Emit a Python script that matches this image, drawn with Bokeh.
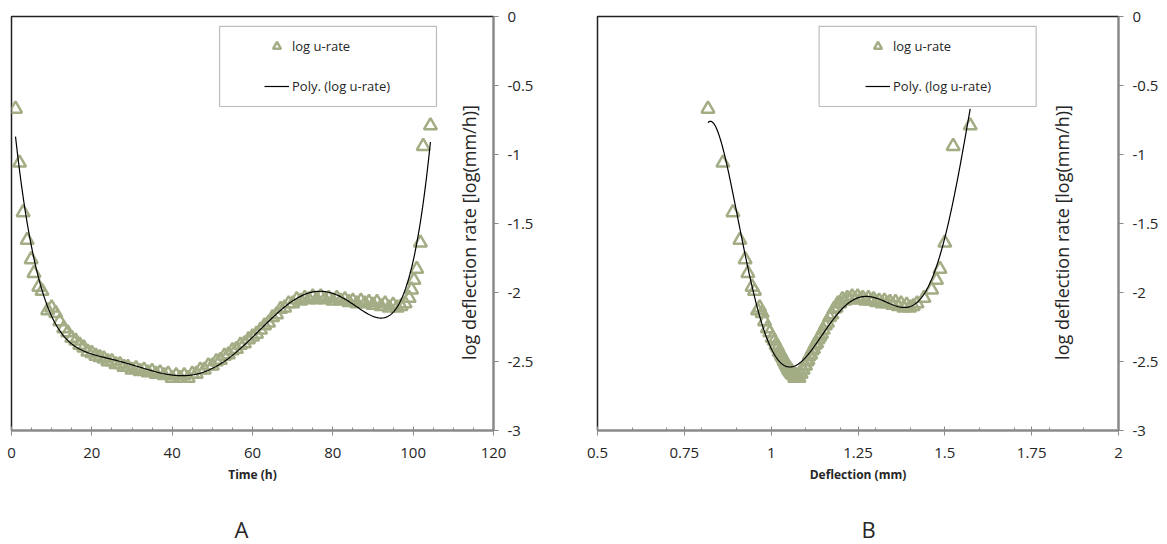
import numpy as np
from bokeh.plotting import figure
from bokeh.layouts import row
from bokeh.models import (Range1d, FixedTicker, CustomJSTickFormatter, Legend, LegendItem,
                          Label, Title, BoxAnnotation, ColumnDataSource)
from bokeh.embed import file_html
from bokeh.resources import INLINE

# ---------------- data ----------------
time_h = [1.0, 2.0, 2.9, 3.9, 4.9, 5.6, 6.8, 7.6, 9.0, 10.0,
          11.0, 12.0, 13.0, 14.0, 15.0, 16.0, 17.0, 18.0, 19.0, 20.0,
          21.0, 22.0, 23.0, 24.0, 25.0, 26.0, 27.0, 28.0, 29.0, 30.0,
          31.0, 32.0, 33.0, 34.0, 35.0, 36.0, 37.0, 38.0, 39.0, 40.0,
          41.0, 42.0, 43.0, 44.0, 45.0, 46.0, 47.0, 48.0, 49.0, 50.0,
          51.0, 52.0, 53.0, 54.0, 55.0, 56.0, 57.0, 58.0, 59.0, 60.0,
          61.0, 62.0, 63.0, 64.0, 65.0, 66.0, 67.0, 68.0, 69.0, 70.0,
          71.0, 72.0, 73.0, 74.0, 75.0, 76.0, 77.0, 78.0, 79.0, 80.0,
          81.0, 82.0, 83.0, 84.0, 85.0, 86.0, 87.0, 88.0, 89.0, 90.0,
          91.0, 92.0, 93.0, 94.0, 95.0, 96.0, 97.0, 98.0, 99.0, 99.6,
          100.2, 100.9, 101.8, 102.5, 104.3]

log_rate = [-0.67, -1.06, -1.42, -1.62, -1.76, -1.86, -1.96, -1.99, -2.13, -2.11,
            -2.15, -2.21, -2.26, -2.29, -2.33, -2.35, -2.38, -2.40, -2.43, -2.44,
            -2.46, -2.47, -2.48, -2.50, -2.50, -2.52, -2.52, -2.54, -2.54, -2.56,
            -2.55, -2.57, -2.56, -2.58, -2.57, -2.59, -2.58, -2.60, -2.59, -2.62,
            -2.60, -2.62, -2.60, -2.62, -2.59, -2.59, -2.56, -2.56, -2.53, -2.53,
            -2.50, -2.49, -2.46, -2.45, -2.42, -2.41, -2.38, -2.37, -2.34, -2.32,
            -2.30, -2.27, -2.24, -2.22, -2.18, -2.16, -2.12, -2.11, -2.08, -2.08,
            -2.05, -2.06, -2.04, -2.05, -2.03, -2.05, -2.03, -2.05, -2.04, -2.06,
            -2.04, -2.06, -2.05, -2.07, -2.06, -2.08, -2.06, -2.08, -2.07, -2.09,
            -2.07, -2.10, -2.08, -2.11, -2.09, -2.11, -2.10, -2.08, -2.04, -1.98,
            -1.91, -1.83, -1.64, -0.94, -0.79]

deflection_mm = [0.818, 0.861, 0.890, 0.910, 0.925, 0.933, 0.945, 0.952, 0.961, 0.967,
                 0.974, 0.981, 0.989, 0.996, 1.003, 1.009, 1.014, 1.019, 1.023, 1.027,
                 1.030, 1.033, 1.035, 1.038, 1.040, 1.042, 1.044, 1.046, 1.048, 1.050,
                 1.052, 1.053, 1.055, 1.056, 1.058, 1.059, 1.061, 1.063, 1.066, 1.068,
                 1.071, 1.074, 1.077, 1.080, 1.083, 1.086, 1.089, 1.092, 1.096, 1.099,
                 1.103, 1.106, 1.110, 1.114, 1.118, 1.122, 1.126, 1.131, 1.135, 1.140,
                 1.145, 1.150, 1.156, 1.162, 1.168, 1.175, 1.181, 1.187, 1.192, 1.198,
                 1.205, 1.212, 1.219, 1.226, 1.233, 1.241, 1.249, 1.257, 1.264, 1.272,
                 1.280, 1.288, 1.295, 1.303, 1.311, 1.319, 1.326, 1.334, 1.342, 1.350,
                 1.358, 1.366, 1.374, 1.382, 1.390, 1.399, 1.409, 1.420, 1.440, 1.462,
                 1.476, 1.486, 1.500, 1.524, 1.573]

x_ticks_a = [0, 20, 40, 60, 80, 100, 120]
x_minor_a = [0, 5, 10, 15, 20, 25, 30, 35, 40, 45, 50, 55, 60, 65, 70, 75, 80, 85,
             90, 95, 100, 105, 110, 115, 120]
x_ticks_b = [0.5, 0.75, 1, 1.25, 1.5, 1.75, 2]
x_minor_b = [0.5, 0.6, 0.7, 0.8, 0.9, 1.0, 1.1, 1.2, 1.3, 1.4, 1.5, 1.6, 1.7, 1.8, 1.9, 2.0]
y_ticks = [0, -0.5, -1, -1.5, -2, -2.5, -3]

series_label = "log u-rate"
trend_label = "Poly. (log u-rate)"
y_title = "log deflection rate [log(mm/h)]"

OLIVE = "#A3AD85"
AXIS_GRAY = "#898989"
TEXT = "#262626"
FONT = "Open Sans"


def make_panel(xs, x_range, xt, xminor, xlabel, letter, letter_offset, box_lr, legend_x,
               ylab_x, border_left, border_right, frame_w):
    p = figure(frame_width=frame_w, frame_height=414,
               x_range=Range1d(*x_range), y_range=Range1d(-3, 0),
               y_axis_location="right", output_backend="svg", toolbar_location=None,
               min_border_left=border_left, min_border_right=border_right,
               min_border_top=16, min_border_bottom=106,
               background_fill_color="white", border_fill_color="white")
    p.xgrid.visible = False
    p.ygrid.visible = False
    p.outline_line_color = "#222222"
    p.outline_line_width = 1.5

    src = ColumnDataSource(dict(x=xs, y=log_rate))
    sc = p.scatter("x", "y", source=src, marker="triangle", size=13,
                   line_color=OLIVE, line_width=2.5, fill_alpha=0)

    coef = np.polyfit(np.array(xs), np.array(log_rate), 6)
    xx = np.linspace(min(xs), max(xs), 400)
    ln = p.line(xx, np.polyval(coef, xx), line_color="black", line_width=1.2)

    # legend box
    box = BoxAnnotation(left=box_lr[0], right=box_lr[1], top=-0.072, bottom=-0.652,
                        fill_color="white", fill_alpha=1.0,
                        line_color="#222222", line_width=1.2)
    p.add_layout(box)
    leg = Legend(items=[LegendItem(label=series_label, renderers=[sc]),
                        LegendItem(label=trend_label, renderers=[ln])],
                 location=(legend_x, 334), glyph_width=25, glyph_height=20,
                 spacing=20, padding=0, margin=0, label_standoff=3,
                 border_line_alpha=0, background_fill_alpha=0,
                 label_text_font=FONT, label_text_font_size="13px",
                 label_text_color=TEXT)
    p.add_layout(leg)

    # y title placed inside the plot area, as in the reference
    p.add_layout(Label(x=ylab_x, y=-1.565, text=y_title, angle=np.pi / 2,
                       text_align="center", text_baseline="middle",
                       text_font=FONT, text_font_size="18px", text_color=TEXT))

    xa = p.xaxis[0]
    xa.ticker = FixedTicker(ticks=xt, minor_ticks=xminor)
    xa.formatter = CustomJSTickFormatter(code="return tick.toString();")
    xa.axis_line_color = AXIS_GRAY
    xa.axis_line_width = 2
    xa.major_tick_line_color = AXIS_GRAY
    xa.minor_tick_line_color = AXIS_GRAY
    xa.major_tick_in = 4
    xa.major_tick_out = 5
    xa.minor_tick_in = 3
    xa.minor_tick_out = 0
    xa.major_label_standoff = 12
    xa.major_label_text_font = FONT
    xa.major_label_text_font_size = "15px"
    xa.major_label_text_color = TEXT
    xa.axis_label = xlabel
    xa.axis_label_text_font = FONT
    xa.axis_label_text_font_size = "12px"
    xa.axis_label_text_font_style = "bold"
    xa.axis_label_text_color = TEXT
    xa.axis_label_standoff = 5

    ya = p.yaxis[0]
    ya.ticker = FixedTicker(ticks=y_ticks)
    ya.formatter = CustomJSTickFormatter(code="return tick.toString();")
    ya.axis_line_color = AXIS_GRAY
    ya.axis_line_width = 2
    ya.major_tick_line_color = AXIS_GRAY
    ya.major_tick_in = 0
    ya.major_tick_out = 5
    ya.minor_tick_line_color = None
    ya.major_label_standoff = 9
    ya.major_label_text_font = FONT
    ya.major_label_text_font_size = "15px"
    ya.major_label_text_color = TEXT

    p.add_layout(Title(text=letter, align="left", text_font=FONT,
                       text_font_size="22px", text_font_style="normal",
                       text_color=TEXT, standoff=53, offset=letter_offset), "below")
    return p


pA = make_panel(time_h, (0, 120), x_ticks_a, x_minor_a, "Time (h)", "A", 223,
                (51.8, 105.8), 253, 114.0, 11, 89, 482)
pB = make_panel(deflection_mm, (0.5, 2), x_ticks_b, x_minor_b, "Deflection (mm)", "B", 264,
                (1.138, 1.763), 268, 1.837, 15, 40, 521)

layout = row(pA, pB)
open("out.html", "w").write(file_html(layout, INLINE))
